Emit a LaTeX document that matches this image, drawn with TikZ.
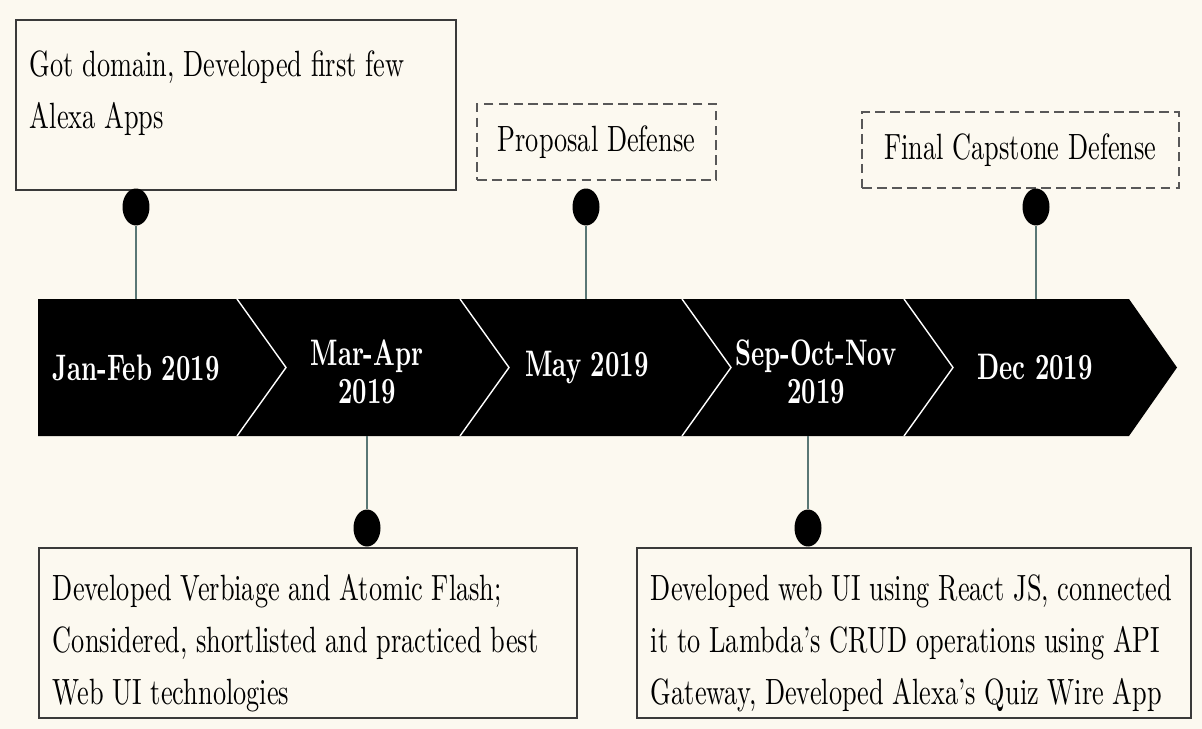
\documentclass[tikz,border=0pt]{standalone}
\usepackage{fontspec}
\setmainfont{lmroman10-regular.otf}[FakeStretch=0.72]
\newfontfamily\datefont{lmroman10-bold.otf}[FakeStretch=0.68]
\usetikzlibrary{shapes.geometric}
\definecolor{paper}{HTML}{FCF9F0}
\definecolor{stem}{HTML}{5A7775}
\definecolor{frame}{HTML}{3A3A3A}
\newcommand\topgap{\rule{0pt}{27pt}}
\hyphenpenalty=10000
\tikzset{
  card/.style={draw=frame, line width=1.1pt, anchor=north west, align=flush left,
    inner xsep=0.28cm, inner ysep=0pt, minimum height=3.4cm,
    font=\fontsize{20.8}{29.6}\selectfont},
  dashbox/.style={draw=frame!85, dash pattern=on 5.5pt off 3pt, line width=1.1pt,
    minimum height=1.52cm, font=\fontsize{20.8}{29.6}\selectfont},
  knob/.style={ellipse, fill=black, inner sep=0pt, minimum width=0.54cm, minimum height=0.74cm},
  stemline/.style={draw=stem, line width=0.85pt},
  datelabel/.style={text=white, align=center, font=\datefont\fontsize{21}{21.6}\selectfont}
}
\begin{document}
\begin{tikzpicture}[x=0.02cm, y=-0.02cm]
  \fill[paper] (0,0) rectangle (1202,729);
  \useasboundingbox (0,0) rectangle (1202,729);

  % the time band
  \fill[black] (38,299) -- (1129,299) -- (1177,367.5) -- (1129,436) -- (38,436) -- cycle;
  \foreach \x in {237,460,682,904}
    \draw[white, line width=0.8pt] (\x,299) -- (\x+49,367.5) -- (\x,436);
  \coordinate (bandtop) at (0,299);
  \coordinate (bandbot) at (0,436);

  \node[datelabel] (jan) at (136,367.5) {Jan-Feb 2019};
  \node[datelabel] (mar) at (367,372) {Mar-Apr\\2019};
  \node[datelabel] (may) at (587,367.5) {May 2019};
  \node[datelabel] (sep) at (816,372) {Sep-Oct-Nov\\2019};
  \node[datelabel] (dec) at (1035,367.5) {Dec 2019};

  % events
  \node[card, text width=8.24cm] (domain) at (15,19)
    {\topgap Got domain, Developed first few\\Alexa Apps\\\mbox{}};
  \node[dashbox, minimum width=4.78cm] (proposal) at (596.5,142) {Proposal Defense};
  \node[dashbox, minimum width=6.34cm] (capstone) at (1020.5,150) {Final Capstone Defense};
  \node[card, text width=10.2cm] (verbiage) at (38,547)
    {\topgap Developed Verbiage and Atomic Flash;\\Considered, shortlisted and practiced best\\Web UI technologies};
  \node[card, text width=10.52cm] (webui) at (636,547)
    {\topgap Developed web UI using React JS, connected\\it to Lambda's CRUD operations using API\\Gateway, Developed Alexa's Quiz Wire App};

  % pins
  \node[knob] (k1) at (136,207) {};
  \node[knob] (k2) at (586,207) {};
  \node[knob] (k3) at (1036,207) {};
  \node[knob] (k4) at (367,528) {};
  \node[knob] (k5) at (808,528) {};
  \foreach \k in {k1,k2,k3}
    \draw[stemline] (\k.south) -- (\k.south |- bandtop);
  \foreach \k in {k4,k5}
    \draw[stemline] (\k.north) -- (\k.north |- bandbot);
\end{tikzpicture}
\end{document}
